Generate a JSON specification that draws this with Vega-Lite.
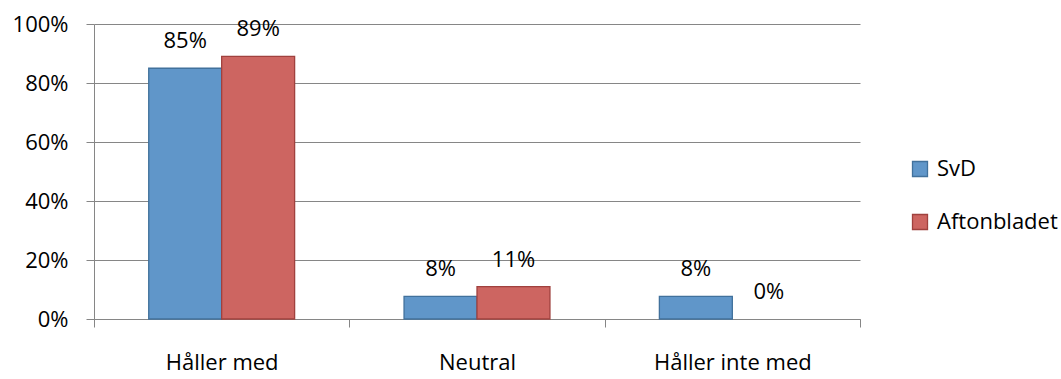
{
  "$schema": "https://vega.github.io/schema/vega-lite/v6.json",
  "width": 766,
  "height": 295,
  "autosize": {"type": "none"},
  "padding": {"left": 94, "top": 24, "right": 201, "bottom": 60},
  "background": "white",
  "config": {
    "view": {"stroke": null},
    "font": "Open Sans",
    "axis": {"labelFont": "Open Sans", "labelFontSize": 22, "labelColor": "#000000", "domainColor": "#868686", "tickColor": "#868686", "gridColor": "#868686", "tickSize": 8, "titleFontSize": 0}
  },
  "data": {
    "values": [
      {"kategori": "Håller med", "serie": "SvD", "andel": 0.85},
      {"kategori": "Håller med", "serie": "Aftonbladet", "andel": 0.89},
      {"kategori": "Neutral", "serie": "SvD", "andel": 0.077},
      {"kategori": "Neutral", "serie": "Aftonbladet", "andel": 0.11},
      {"kategori": "Håller inte med", "serie": "SvD", "andel": 0.077},
      {"kategori": "Håller inte med", "serie": "Aftonbladet", "andel": 0}
    ]
  },
  "encoding": {
    "x": {
      "field": "kategori", "type": "nominal", "sort": ["Håller med", "Neutral", "Håller inte med"],
      "scale": {"paddingInner": 0, "paddingOuter": 0},
      "axis": {"title": null, "labelAngle": 0, "labelPadding": 25, "tickBand": "extent", "grid": false, "domainWidth": 1}
    },
    "xOffset": {
      "field": "serie", "type": "nominal", "sort": ["SvD", "Aftonbladet"],
      "scale": {"domain": ["SvD", "Aftonbladet"], "paddingInner": 0, "paddingOuter": 0.75}
    },
    "y": {
      "field": "andel", "type": "quantitative",
      "scale": {"domain": [0, 1], "nice": false},
      "axis": {"title": null, "format": ".0%", "values": [0, 0.2, 0.4, 0.6, 0.8, 1], "grid": true, "labelPadding": 18, "domain": true}
    }
  },
  "layer": [
    {
      "transform": [{"filter": "datum.andel > 0"}],
      "mark": {"type": "bar", "strokeWidth": 1.3},
      "encoding": {
        "color": {
          "field": "serie", "type": "nominal", "sort": ["SvD", "Aftonbladet"],
          "scale": {"domain": ["SvD", "Aftonbladet"], "range": ["#6096c9", "#cd6561"]},
          "legend": {
            "title": null, "orient": "none", "legendX": 815, "legendY": 134,
            "padding": 0, "labelFont": "Open Sans", "labelFontSize": 22, "labelColor": "#000000",
            "symbolType": "square", "symbolSize": 225, "symbolStrokeWidth": 1.3,
            "labelOffset": 6, "rowPadding": 31, "symbolOpacity": 1
          }
        },
        "stroke": {
          "field": "serie", "type": "nominal", "sort": ["SvD", "Aftonbladet"],
          "scale": {"domain": ["SvD", "Aftonbladet"], "range": ["#41719c", "#a0413e"]},
          "legend": {
            "title": null, "orient": "none", "legendX": 815, "legendY": 134,
            "padding": 0, "labelFont": "Open Sans", "labelFontSize": 22, "labelColor": "#000000",
            "symbolType": "square", "symbolSize": 225, "symbolStrokeWidth": 1.3,
            "labelOffset": 6, "rowPadding": 31
          }
        }
      }
    },
    {
      "mark": {"type": "text", "baseline": "alphabetic", "dy": -20, "fontSize": 22, "font": "Open Sans", "color": "#000000"},
      "encoding": {
        "text": {"field": "andel", "type": "quantitative", "format": ".0%"}
      }
    }
  ]
}
